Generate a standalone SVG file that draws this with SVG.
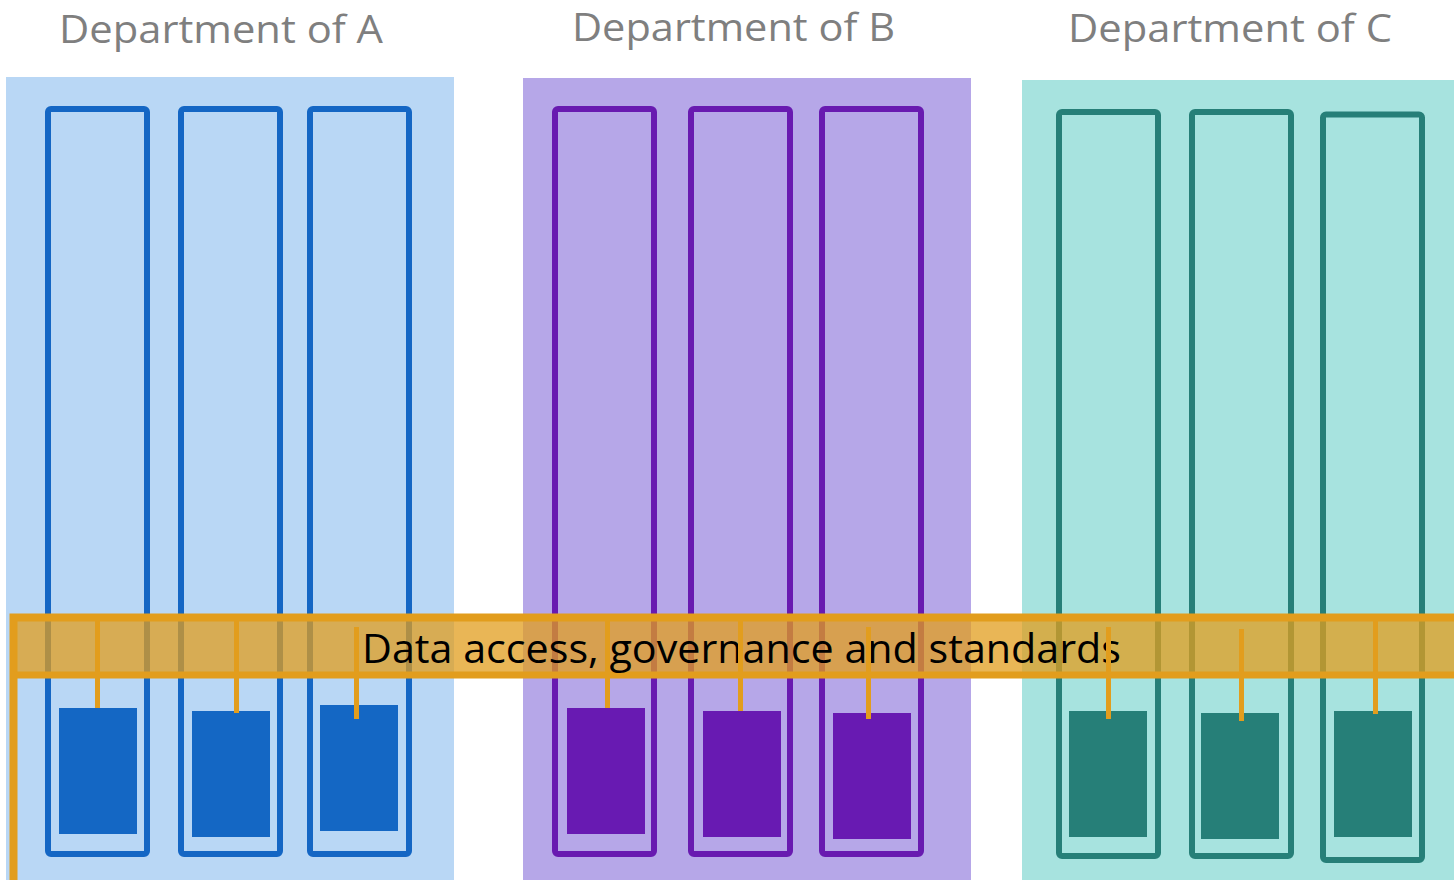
<svg xmlns="http://www.w3.org/2000/svg" width="1454" height="880" viewBox="0 0 1454 880">
<style>
.title{font-family:"Open Sans","Liberation Sans",sans-serif;font-size:39px;fill:#7f7f7f}
.band-text{font-family:"Open Sans","Liberation Sans",sans-serif;font-size:40px;fill:#000}
.colA{fill:none;stroke:#1466c4;stroke-width:6}
.colB{fill:none;stroke:#681ab0;stroke-width:6}
.colC{fill:none;stroke:#267f78;stroke-width:6}
.sqA{fill:#1467c4}
.sqB{fill:#681ab2}
.sqC{fill:#267f78}
.tick{stroke:#e29d1d;stroke-width:5}
</style>
<rect width="1454" height="880" fill="#fff"/>
<g id="dept-a">
<rect x="6" y="77" width="448" height="803" fill="#b9d7f5"/>
<text class="title" x="59" y="43" textLength="324" lengthAdjust="spacingAndGlyphs">Department of A</text>
<rect class="colA" x="48" y="109" width="99" height="745" rx="3"/>
<rect class="colA" x="181" y="109" width="99" height="745" rx="3"/>
<rect class="colA" x="310" y="109" width="99" height="745" rx="3"/>
<rect class="sqA" x="59" y="708" width="78" height="126"/>
<rect class="sqA" x="192" y="711" width="78" height="126"/>
<rect class="sqA" x="320" y="705" width="78" height="126"/>
</g>
<g id="dept-b">
<rect x="523" y="78" width="448" height="802" fill="#b6a7e8"/>
<text class="title" x="572" y="41" textLength="323" lengthAdjust="spacingAndGlyphs">Department of B</text>
<rect class="colB" x="555" y="109" width="99" height="745" rx="3"/>
<rect class="colB" x="691" y="109" width="99" height="745" rx="3"/>
<rect class="colB" x="822" y="109" width="99" height="745" rx="3"/>
<rect class="sqB" x="567" y="708" width="78" height="126"/>
<rect class="sqB" x="703" y="711" width="78" height="126"/>
<rect class="sqB" x="833" y="713" width="78" height="126"/>
</g>
<g id="dept-c">
<rect x="1022" y="80" width="432" height="800" fill="#a7e3df"/>
<text class="title" x="1068" y="42" textLength="324" lengthAdjust="spacingAndGlyphs">Department of C</text>
<rect class="colC" x="1059" y="112" width="99" height="744" rx="3"/>
<rect class="colC" x="1192" y="112" width="99" height="744" rx="3"/>
<rect class="colC" x="1323" y="114.5" width="99" height="745.5" rx="3"/>
<rect class="sqC" x="1069" y="711" width="78" height="126"/>
<rect class="sqC" x="1201" y="713" width="78" height="126"/>
<rect class="sqC" x="1334" y="711" width="78" height="126"/>
</g>
<g id="data-band">
<rect x="13" y="620" width="1450" height="55" fill="#e29d1d" fill-opacity="0.75"/>
<path d="M13.5,880 V617.5 H1460" fill="none" stroke="#e29d1d" stroke-width="8"/>
<line x1="13" y1="675" x2="1460" y2="675" stroke="#e29d1d" stroke-width="7"/>
<text class="band-text" x="362" y="663" textLength="759" lengthAdjust="spacingAndGlyphs">Data access, governance and standards</text>
</g>
<g id="connectors">
<line class="tick" x1="97.5" y1="621" x2="97.5" y2="708"/>
<line class="tick" x1="236.5" y1="621" x2="236.5" y2="713"/>
<line class="tick" x1="356.5" y1="627" x2="356.5" y2="719"/>
<line class="tick" x1="607.5" y1="621" x2="607.5" y2="708"/>
<line class="tick" x1="740.5" y1="621" x2="740.5" y2="711"/>
<line class="tick" x1="868.5" y1="627" x2="868.5" y2="719"/>
<line class="tick" x1="1108.5" y1="627" x2="1108.5" y2="719"/>
<line class="tick" x1="1241.5" y1="629" x2="1241.5" y2="721"/>
<line class="tick" x1="1375.5" y1="621" x2="1375.5" y2="714"/>
</g>
</svg>
